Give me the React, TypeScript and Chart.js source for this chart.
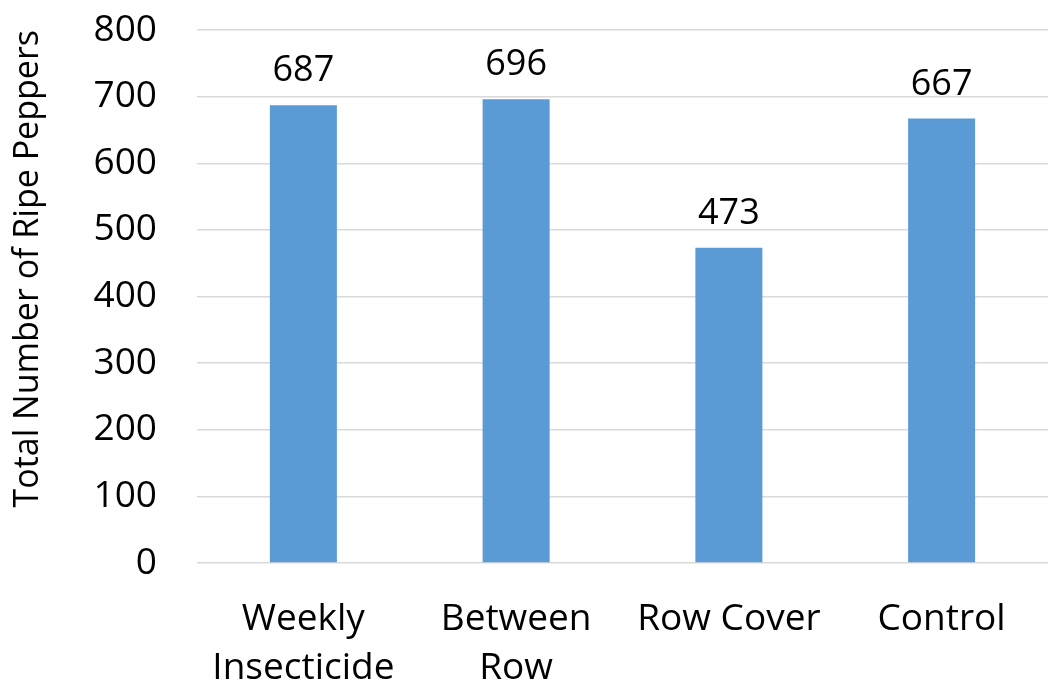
import React, { useEffect, useRef } from "react";
import { Chart, registerables } from "chart.js";

Chart.register(...registerables);

const categories: string[][] = [
  ["Weekly", "Insecticide"],
  ["Between", "Row"],
  ["Row Cover"],
  ["Control"],
];
const ripePeppers: number[] = [687, 696, 473, 667];
const yTicks: number[] = [0, 100, 200, 300, 400, 500, 600, 700, 800];

const FONT = "'Open Sans', 'Noto Sans', sans-serif";

const valueLabels = {
  id: "valueLabels",
  afterDatasetsDraw(chart: any) {
    const ctx = chart.ctx;
    const meta = chart.getDatasetMeta(0);
    const data = chart.data.datasets[0].data as number[];
    ctx.save();
    ctx.font = `36px ${FONT}`;
    ctx.fillStyle = "#000000";
    ctx.textAlign = "center";
    ctx.textBaseline = "alphabetic";
    meta.data.forEach((bar: any, i: number) => {
      ctx.fillText(String(data[i]), bar.x, bar.y - 24);
    });
    ctx.restore();
  },
};

export default function App() {
  const canvasRef = useRef<HTMLCanvasElement | null>(null);

  useEffect(() => {
    if (!canvasRef.current) return;
    const chart = new Chart(canvasRef.current, {
      type: "bar",
      data: {
        labels: categories,
        datasets: [
          {
            data: ripePeppers,
            backgroundColor: "#5B9BD5",
            borderWidth: 0,
            barPercentage: 0.315,
            categoryPercentage: 1,
          },
        ],
      },
      options: {
        animation: false,
        responsive: false,
        maintainAspectRatio: false,
        layout: { padding: 0 },
        plugins: {
          legend: { display: false },
          tooltip: { enabled: false },
        },
        scales: {
          x: {
            grid: { display: false, drawTicks: false },
            border: { display: false },
            ticks: {
              color: "#000000",
              font: { family: FONT, size: 37, lineHeight: 1.33 },
              padding: 32,
              maxRotation: 0,
              autoSkip: false,
            },
            afterFit(scale: any) {
              scale.height = 130;
              scale.paddingLeft = 0;
              scale.paddingRight = 0;
            },
          },
          y: {
            min: 0,
            max: 800,
            afterBuildTicks(scale: any) {
              scale.ticks = yTicks.map((v) => ({ value: v }));
            },
            grid: { color: "#d9d9d9", lineWidth: 1.5, drawTicks: false },
            border: { display: false },
            ticks: {
              color: "#000000",
              font: { family: FONT, size: 37 },
              padding: 40,
            },
            title: {
              display: true,
              text: "Total Number of Ripe Peppers",
              align: "end",
              color: "#000000",
              font: { family: FONT, size: 34 },
              padding: { top: 8, bottom: 0 },
            },
            afterFit(scale: any) {
              scale.width = 197;
              scale.paddingTop = 30;
              scale.paddingBottom = 0;
            },
          },
        },
      },
      plugins: [valueLabels],
    });
    return () => chart.destroy();
  }, []);

  return (
    <div
      style={{
        position: "fixed",
        left: 0,
        top: 0,
        width: 1048,
        height: 693,
        background: "#ffffff",
      }}
    >
      <canvas ref={canvasRef} width={1048} height={693} />
    </div>
  );
}
